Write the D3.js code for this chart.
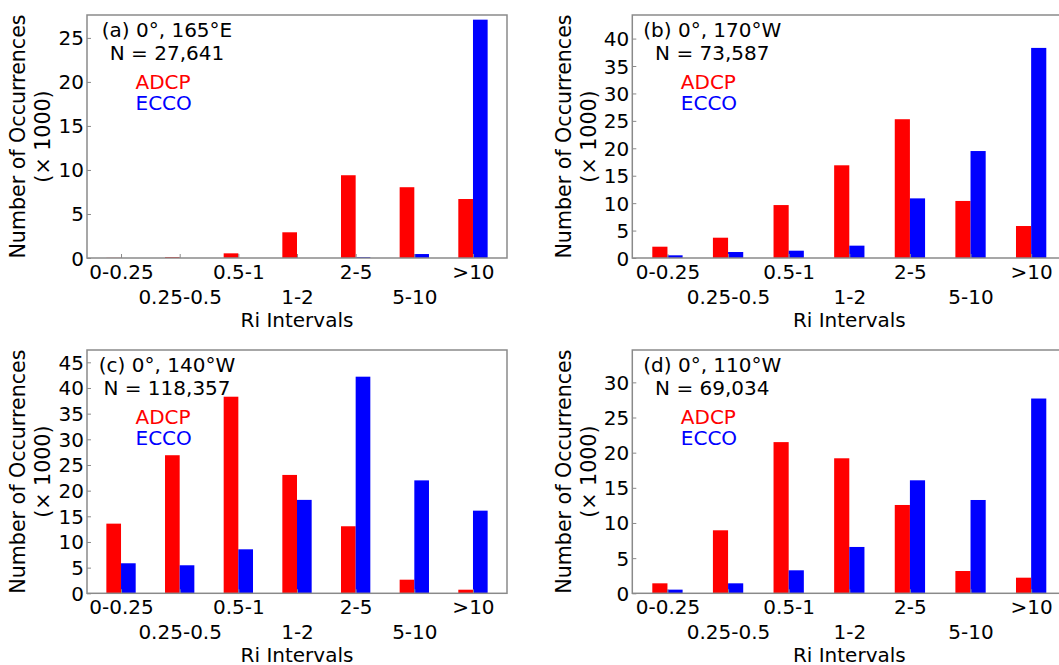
<!DOCTYPE html>
<html>
<head>
<meta charset="utf-8">
<script src="https://cdn.jsdelivr.net/npm/d3@7"></script>
<style>
  html, body { margin: 0; padding: 0; background: #fff; overflow: hidden; }
  svg { display: block; font-family: "DejaVu Sans", sans-serif; }
</style>
</head>
<body>
<svg id="chart" width="1059" height="665"></svg>
<script>
// Ri bins shared by every panel
const categories = ["0-0.25", "0.25-0.5", "0.5-1", "1-2", "2-5", "5-10", ">10"];
const seriesNames = ["ADCP", "ECCO"];

// panel headings
const panelTitles = ["(a) 0°, 165°E", "(b) 0°, 170°W", "(c) 0°, 140°W", "(d) 0°, 110°W"];
const panelCounts = ["N = 27,641", "N = 73,587", "N = 118,357", "N = 69,034"];

// occurrences (x 1000)
const adcpA = [0.02, 0.1, 0.53, 2.92, 9.4, 8.04, 6.7];
const eccoA = [0, 0, 0, 0, 0.1, 0.45, 27.07];
const adcpB = [2.06, 3.7, 9.65, 16.9, 25.3, 10.4, 5.83];
const eccoB = [0.49, 1.09, 1.33, 2.25, 10.87, 19.5, 38.3];
const adcpC = [13.57, 26.9, 38.3, 23.06, 13.06, 2.65, 0.7];
const eccoC = [5.85, 5.46, 8.57, 18.2, 42.2, 22.0, 16.1];
const adcpD = [1.42, 8.96, 21.5, 19.2, 12.56, 3.17, 2.22];
const eccoD = [0.52, 1.42, 3.27, 6.59, 16.07, 13.27, 27.7];

// y axis upper limit and tick values per panel
const yMax = [27.6, 44.3, 47.4, 34.6];
const yTicks = [
    [0, 5, 10, 15, 20, 25],
    [0, 5, 10, 15, 20, 25, 30, 35, 40],
    [0, 5, 10, 15, 20, 25, 30, 35, 40, 45],
    [0, 5, 10, 15, 20, 25, 30]
];

const adcpAll = [adcpA, adcpB, adcpC, adcpD];
const eccoAll = [eccoA, eccoB, eccoC, eccoD];

const colors = {ADCP: "#ff0000", ECCO: "#0000ff"};
const frameColor = "#8a8a8a";
const fontSize = 20;

// layout of the four axes boxes
const boxes = [
    {left: 87, top: 15, width: 420, height: 243},
    {left: 632.3, top: 15, width: 434, height: 243},
    {left: 87, top: 350, width: 420, height: 243.3},
    {left: 632.3, top: 350, width: 434, height: 243.3}
];

const svg = d3.select("#chart");

boxes.forEach((b, p) => {
    const g = svg.append("g").attr("transform", `translate(${b.left},${b.top})`);

    // categories sit on integer positions, margin of ~0.58 on each side
    const x = d3.scaleLinear().domain([-0.58, categories.length - 1 + 0.58]).range([0, b.width]);
    const y = d3.scaleLinear().domain([0, yMax[p]]).range([b.height, 0]);
    const barW = x(0.25) - x(0);

    const rows = categories.map((c, i) => ({cat: c, i: i, ADCP: adcpAll[p][i], ECCO: eccoAll[p][i]}));

    // bars: ADCP left of tick, ECCO right of tick
    g.selectAll("rect.adcp")
        .data(rows)
        .enter()
        .append("rect")
        .attr("class", "adcp")
        .attr("x", d => x(d.i) - barW)
        .attr("y", d => y(d.ADCP))
        .attr("width", barW)
        .attr("height", d => b.height - y(d.ADCP))
        .attr("fill", colors.ADCP);

    g.selectAll("rect.ecco")
        .data(rows)
        .enter()
        .append("rect")
        .attr("class", "ecco")
        .attr("x", d => x(d.i))
        .attr("y", d => y(d.ECCO))
        .attr("width", barW)
        .attr("height", d => b.height - y(d.ECCO))
        .attr("fill", colors.ECCO);

    // frame
    g.append("rect")
        .attr("width", b.width)
        .attr("height", b.height)
        .attr("fill", "none")
        .attr("stroke", frameColor)
        .attr("stroke-width", 1.5);

    // x ticks (inward) + staggered labels
    const xAxis = d3.axisBottom(x)
        .tickValues(d3.range(categories.length))
        .tickSize(-4)
        .tickFormat(i => categories[i]);
    const xg = g.append("g").attr("transform", `translate(0,${b.height})`).call(xAxis);
    xg.select(".domain").remove();
    xg.selectAll(".tick line").attr("stroke", frameColor);
    xg.selectAll(".tick text")
        .attr("fill", "#000")
        .style("font-size", fontSize + "px")
        .style("font-family", "'DejaVu Sans', sans-serif")
        .attr("dy", null)
        .attr("y", (i) => i % 2 === 0 ? 21 : 46);

    // y ticks (inward)
    const yAxis = d3.axisLeft(y)
        .tickValues(yTicks[p])
        .tickSize(-4)
        .tickPadding(3)
        .tickFormat(d3.format("d"));
    const yg = g.append("g").call(yAxis);
    yg.select(".domain").remove();
    yg.selectAll(".tick line").attr("stroke", frameColor);
    yg.selectAll(".tick text")
        .attr("fill", "#000")
        .style("font-size", fontSize + "px")
        .style("font-family", "'DejaVu Sans', sans-serif")
        .attr("x", -3)
        .attr("dy", "0.35em");

    // axis titles
    g.append("text")
        .attr("x", b.width / 2)
        .attr("y", b.height + 69)
        .attr("text-anchor", "middle")
        .style("font-size", fontSize + "px")
        .text("Ri Intervals");

    const yl = g.append("text")
        .attr("transform", `translate(-69,${b.height / 2}) rotate(-90)`)
        .attr("text-anchor", "middle")
        .style("font-size", "20.6px");
    yl.append("tspan").attr("x", 0).attr("dy", "0.35em").text("Number of Occurrences");
    yl.append("tspan").attr("x", 0).attr("dy", 25).text("(× 1000)");

    // annotations
    g.append("text")
        .attr("x", 80).attr("y", 21.7)
        .attr("text-anchor", "middle")
        .style("font-size", fontSize + "px")
        .text(panelTitles[p]);
    g.append("text")
        .attr("x", 80).attr("y", 44.5)
        .attr("text-anchor", "middle")
        .style("font-size", fontSize + "px")
        .text(panelCounts[p]);

    seriesNames.forEach((s, k) => {
        g.append("text")
            .attr("x", 48.5).attr("y", 74 + k * 21)
            .attr("fill", colors[s])
            .style("font-size", fontSize + "px")
            .text(s);
    });
});
</script>
</body>
</html>
